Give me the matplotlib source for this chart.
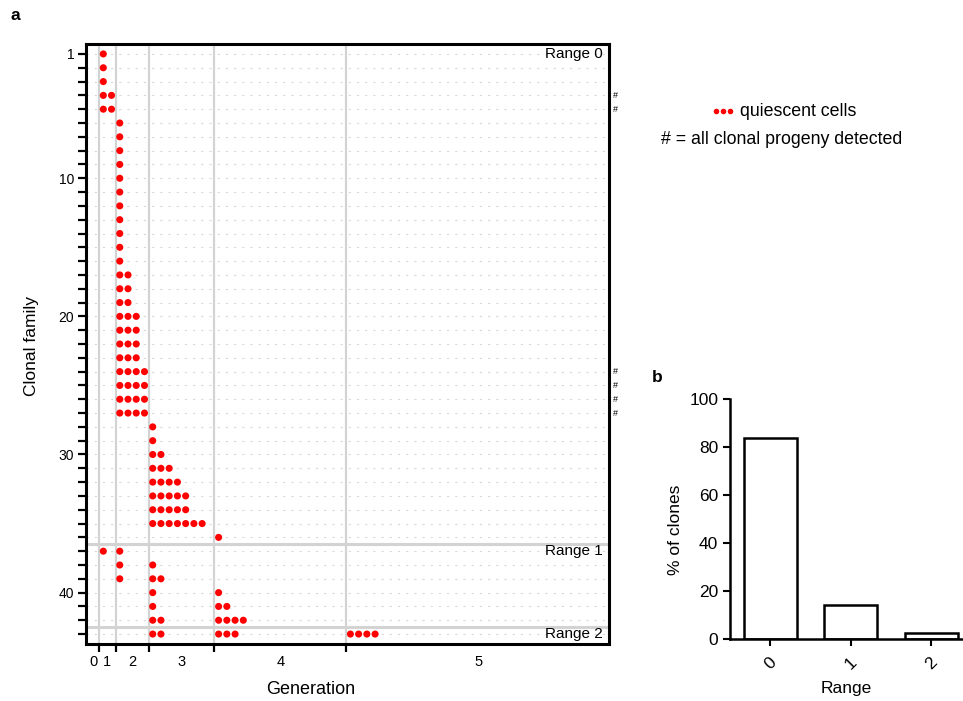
import matplotlib
matplotlib.use("Agg")
import matplotlib.pyplot as plt
from matplotlib.lines import Line2D
import matplotlib.transforms as mtransforms

plt.rcParams['font.family'] = ['Liberation Sans', 'DejaVu Sans']
plt.rcParams['lines.scale_dashes'] = False

# ---------------- data ----------------
families = list(range(1, 44))
# number of quiescent cells per clonal family (row) in each generation band
gen1_cells = [1, 1, 1, 2, 2, 0, 0, 0, 0, 0, 0, 0, 0, 0, 0, 0, 0, 0, 0, 0, 0, 0,
              0, 0, 0, 0, 0, 0, 0, 0, 0, 0, 0, 0, 0, 0, 1, 0, 0, 0, 0, 0, 0]
gen2_cells = [0, 0, 0, 0, 0, 1, 1, 1, 1, 1, 1, 1, 1, 1, 1, 1, 2, 2, 2, 3, 3, 3,
              3, 4, 4, 4, 4, 0, 0, 0, 0, 0, 0, 0, 0, 0, 1, 1, 1, 0, 0, 0, 0]
gen3_cells = [0, 0, 0, 0, 0, 0, 0, 0, 0, 0, 0, 0, 0, 0, 0, 0, 0, 0, 0, 0, 0, 0,
              0, 0, 0, 0, 0, 1, 1, 2, 3, 4, 5, 5, 7, 0, 0, 1, 2, 1, 1, 2, 2]
gen4_cells = [0, 0, 0, 0, 0, 0, 0, 0, 0, 0, 0, 0, 0, 0, 0, 0, 0, 0, 0, 0, 0, 0,
              0, 0, 0, 0, 0, 0, 0, 0, 0, 0, 0, 0, 0, 1, 0, 0, 0, 1, 2, 4, 3]
gen5_cells = [0, 0, 0, 0, 0, 0, 0, 0, 0, 0, 0, 0, 0, 0, 0, 0, 0, 0, 0, 0, 0, 0,
              0, 0, 0, 0, 0, 0, 0, 0, 0, 0, 0, 0, 0, 0, 0, 0, 0, 0, 0, 0, 4]
generation_cells = [gen1_cells, gen2_cells, gen3_cells, gen4_cells, gen5_cells]
band_starts = [1, 3, 7, 15, 31]          # generation band boundaries (cell slots)
gen_labels = ['0', '1', '2', '3', '4', '5']
all_detected = [4, 5, 24, 25, 26, 27]    # families marked with '#'
range_bounds = [36.5, 42.5]
range_labels = ['Range 0', 'Range 1', 'Range 2']
range_label_rows = [1, 37, 43]

ranges = ['0', '1', '2']
pct_clones = [83.7, 14.0, 2.3]

# ---------------- figure ----------------
W, H = 963, 701
fig = plt.figure(figsize=(W / 100, H / 100), dpi=100)

def fr(x0, y0, x1, y1):
    return [x0 / W, 1 - y1 / H, (x1 - x0) / W, (y1 - y0) / H]

ax = fig.add_axes(fr(86, 44, 609, 644))
XMIN, XMAX = -0.6, 62.9
ax.set_xlim(XMIN, XMAX)
ax.set_ylim(43.72, 0.28)

# row guide lines
for r in families:
    ax.axhline(r, color='#d9d9d9', lw=0.8, ls=(0, (1.6, 4.3)), zorder=0)
# generation band lines
for b in band_starts:
    ax.axvline(b, color='#d3d3d3', lw=1.6, zorder=1)
# range separators
for rb in range_bounds:
    ax.axhline(rb, color='#d3d3d3', lw=2.2, zorder=1)

# dots
xs, ys = [], []
for start, counts in zip(band_starts, generation_cells):
    for fam, n in zip(families, counts):
        for i in range(n):
            xs.append(start + 0.5 + i)
            ys.append(fam)
ax.scatter(xs, ys, s=26, color='#ff0000', edgecolors='none', zorder=3)

blend = mtransforms.blended_transform_factory(ax.transAxes, ax.transData)
# range labels
for lab, row in zip(range_labels, range_label_rows):
    ax.text(0.988, row, lab, transform=blend, ha='right', va='center', fontsize=11, zorder=4)

# '#' marks
for row in all_detected:
    ax.text(1.013, row, '#', transform=blend, ha='center', va='center', fontsize=6.5, clip_on=False)

# axes styling
for sp in ax.spines.values():
    sp.set_linewidth(2.2)
ax.set_yticks([1, 10, 20, 30, 40])
ax.set_yticks(families, minor=True)
ax.tick_params(axis='y', which='both', length=5.5, width=1.6, labelsize=10, pad=3)
ax.set_xticks(band_starts)
ax.set_xticklabels([])
centers = [(XMIN + 1) / 2 + 0.1] + [(a + b) / 2 for a, b in zip(band_starts, band_starts[1:] + [63])]
ax.set_xticks(centers, minor=True)
ax.set_xticklabels(gen_labels, minor=True)
ax.tick_params(axis='x', which='major', length=5.5, width=1.6)
ax.tick_params(axis='x', which='minor', length=0, labelsize=10.5, pad=8)
ax.set_xlabel('Generation', fontsize=13)
ax.xaxis.set_label_coords((311 - 86) / 523, -(681 - 644) / 600)
ax.set_ylabel('Clonal family', fontsize=12.5)
ax.yaxis.set_label_coords(-(86 - 39) / 523, 0.497)

# legend (figure level)
for dx in [716, 723, 730]:
    fig.add_artist(Line2D([dx / W], [1 - 111 / H], marker='o', ms=4.0, color='#ff0000',
                          markeredgewidth=0, linestyle='none', transform=fig.transFigure))
fig.text(740 / W, 1 - 111 / H, 'quiescent cells', fontsize=12.8, va='center', ha='left')
fig.text(661 / W, 1 - 140 / H, '# = all clonal progeny detected', fontsize=12.8, va='center', ha='left')

# panel labels
fig.text(10 / W, 1 - 16 / H, 'a', fontsize=12.5, fontweight='bold', va='center')
fig.text(652 / W, 1 - 377 / H, 'b', fontsize=12.5, fontweight='bold', va='center')

# ---------------- panel b ----------------
bx = fig.add_axes(fr(730, 399, 962, 639))
bx.bar(range(len(ranges)), pct_clones, width=0.66, color='white', edgecolor='black', linewidth=1.8)
bx.set_xlim(-0.5, 2.38)
bx.set_ylim(0, 100)
bx.set_yticks([0, 20, 40, 60, 80, 100])
bx.set_xticks(range(len(ranges)))
bx.set_xticklabels(ranges, rotation=45, ha='center')
for s in ['top', 'right']:
    bx.spines[s].set_visible(False)
for s in ['left', 'bottom']:
    bx.spines[s].set_linewidth(1.8)
bx.tick_params(length=5, width=1.5, labelsize=12.5)
bx.tick_params(axis='x', pad=6)
bx.set_xlabel('Range', fontsize=12.5)
bx.xaxis.set_label_coords((846 - 730) / 232, -(681 - 639) / 240)
bx.set_ylabel('% of clones', fontsize=12.5)
bx.yaxis.set_label_coords(-(730 - 683) / 232, 1 - (530 - 399) / 240)

fig.savefig('out.png', dpi=100)
